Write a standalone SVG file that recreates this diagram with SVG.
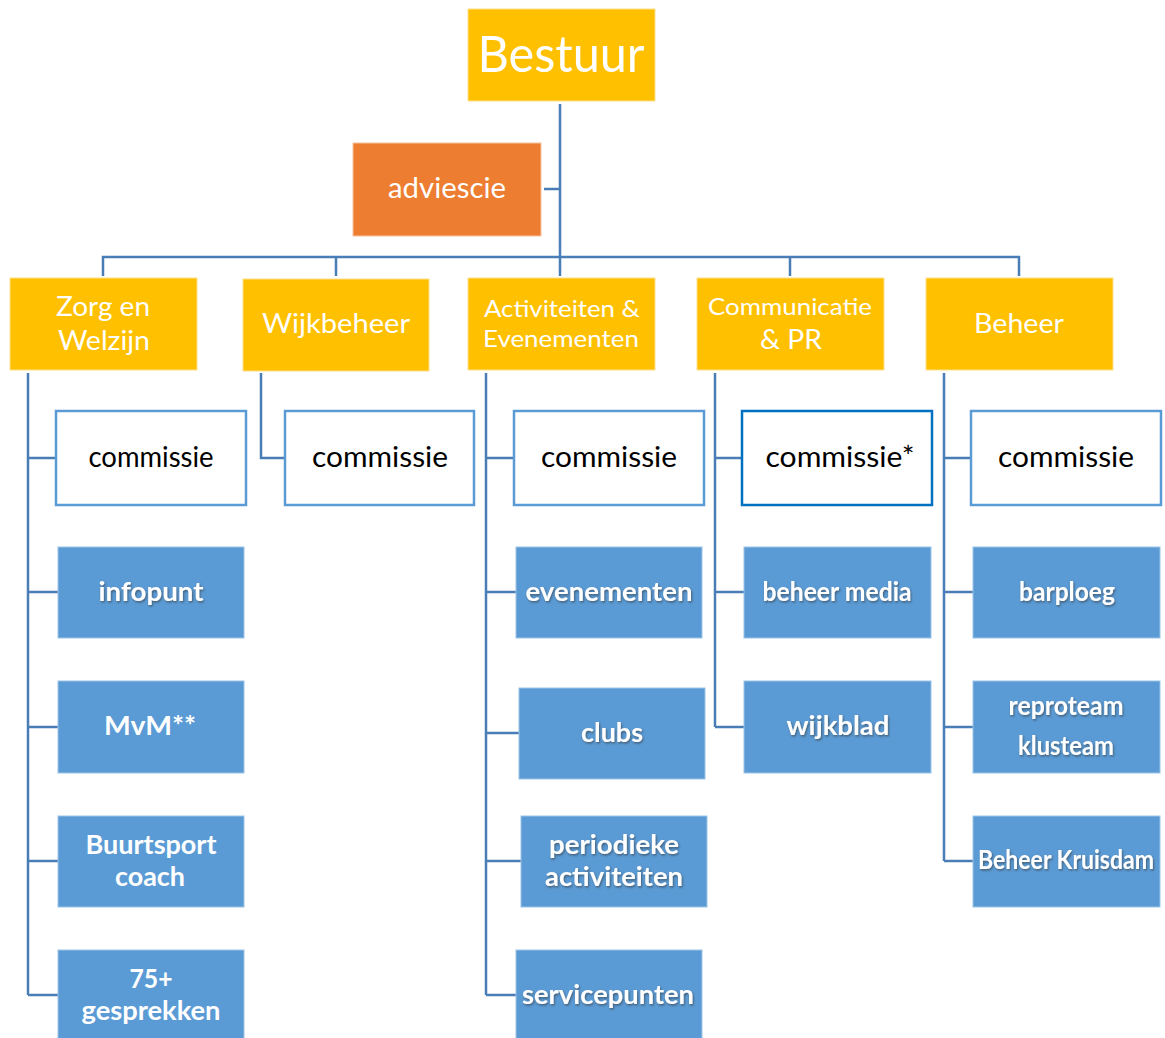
<svg xmlns="http://www.w3.org/2000/svg" width="1165" height="1038" viewBox="0 0 1165 1038">
<defs>
<style>
.gold{fill:#FFC000;stroke:#FFE08A;stroke-width:1}
.orange{fill:#ED7D31;stroke:#F6C3A0;stroke-width:1}
.com{fill:#fff;stroke:#5B9BD5;stroke-width:2.5}
.com2{fill:#fff;stroke:#0070C0;stroke-width:2.5}
.blue{fill:#5B9BD5;stroke:#9DC3E6;stroke-width:1}
.t{font-family:Lato,"Liberation Sans",sans-serif;text-anchor:middle}
.w{fill:#fff}
.k{fill:#000;font-size:28px}
.b{fill:#fff;font-weight:bold;font-size:26px}
.sh{filter:url(#shadow)}
.conn{fill:none;stroke:#4A7DB5;stroke-width:2.5}
</style>
<filter id="shadow" x="-10%" y="-20%" width="120%" height="150%">
<feDropShadow dx="1" dy="1.5" stdDeviation="1" flood-color="#333" flood-opacity="0.6"/>
</filter>
</defs>
<rect width="1165" height="1038" fill="#fff"/>
<g id="connectors">
<path class="conn" d="M560 104V276M103 276V257H1019V276M336 257V276M790 257V276M544 189H560"/>
<path class="conn" d="M28 373V995M28 458H56M28 592H58M28 727H58M28 861H58M28 995H58"/>
<path class="conn" d="M261 373V458H285"/>
<path class="conn" d="M486 373V995M486 458H514M486 592H516M486 733H519M486 861H521M486 995H516"/>
<path class="conn" d="M715 373V727M715 458H742M715 592H744M715 727H744"/>
<path class="conn" d="M944 373V861M944 458H971M944 592H973M944 727H973M944 861H973"/>
</g>
<g id="bestuur"><rect class="gold" x="468" y="9" width="187" height="92"/><text class="t w" x="561" y="72" font-size="50" textLength="167" lengthAdjust="spacingAndGlyphs">Bestuur</text></g>
<g id="adviescie"><rect class="orange" x="353" y="143" width="188" height="93"/><text class="t w" x="447" y="198" font-size="28" textLength="118" lengthAdjust="spacingAndGlyphs">adviescie</text></g>
<g id="zorg"><rect class="gold" x="10" y="278" width="187" height="92"/><text class="t w" x="103" y="316" font-size="27" textLength="94" lengthAdjust="spacingAndGlyphs">Zorg en</text><text class="t w" x="104" y="350" font-size="27" textLength="92" lengthAdjust="spacingAndGlyphs">Welzijn</text></g>
<g id="wijkbeheer"><rect class="gold" x="243" y="279" width="186" height="92"/><text class="t w" x="336" y="333" font-size="27" textLength="148" lengthAdjust="spacingAndGlyphs">Wijkbeheer</text></g>
<g id="activiteiten"><rect class="gold" x="468" y="278" width="187" height="92"/><text class="t w" x="562" y="317" font-size="24" textLength="156" lengthAdjust="spacingAndGlyphs">Activiteiten &amp;</text><text class="t w" x="561" y="347" font-size="24" textLength="156" lengthAdjust="spacingAndGlyphs">Evenementen</text></g>
<g id="communicatie"><rect class="gold" x="697" y="278" width="187" height="92"/><text class="t w" x="790" y="315" font-size="24" textLength="164" lengthAdjust="spacingAndGlyphs">Communicatie</text><text class="t w" x="791" y="349" font-size="27" textLength="62" lengthAdjust="spacingAndGlyphs">&amp; PR</text></g>
<g id="beheer"><rect class="gold" x="926" y="278" width="187" height="92"/><text class="t w" x="1019" y="333" font-size="27" textLength="90" lengthAdjust="spacingAndGlyphs">Beheer</text></g>

<g id="zorg-commissie"><rect class="com" x="56" y="411" width="190" height="94"/><text class="t k" x="151" y="467" textLength="125" lengthAdjust="spacingAndGlyphs">commissie</text></g>
<g id="wijk-commissie"><rect class="com" x="285" y="411" width="189" height="94"/><text class="t k" x="380" y="467" textLength="136" lengthAdjust="spacingAndGlyphs">commissie</text></g>
<g id="act-commissie"><rect class="com" x="514" y="411" width="190" height="94"/><text class="t k" x="609" y="467" textLength="136" lengthAdjust="spacingAndGlyphs">commissie</text></g>
<g id="comm-commissie"><rect class="com2" x="742" y="411" width="190" height="94"/><text class="t k" x="840" y="467" textLength="149" lengthAdjust="spacingAndGlyphs">commissie*</text></g>
<g id="beheer-commissie"><rect class="com" x="971" y="411" width="190" height="94"/><text class="t k" x="1066" y="467" textLength="136" lengthAdjust="spacingAndGlyphs">commissie</text></g>

<g id="infopunt"><rect class="blue" x="58" y="547" width="186" height="91"/><text class="t b sh" x="151" y="601" textLength="105" lengthAdjust="spacingAndGlyphs">infopunt</text></g>
<g id="mvm"><rect class="blue" x="58" y="681" width="186" height="92"/><text class="t b" x="150" y="735" textLength="92" lengthAdjust="spacingAndGlyphs">MvM**</text></g>
<g id="buurtsport"><rect class="blue" x="58" y="816" width="186" height="91"/><text class="t b" x="151" y="854" textLength="131" lengthAdjust="spacingAndGlyphs">Buurtsport</text><text class="t b" x="150" y="886" textLength="70" lengthAdjust="spacingAndGlyphs">coach</text></g>
<g id="gesprekken"><rect class="blue" x="58" y="950" width="186" height="92"/><text class="t b" x="151" y="988" textLength="43" lengthAdjust="spacingAndGlyphs">75+</text><text class="t b" x="151" y="1020" textLength="139" lengthAdjust="spacingAndGlyphs">gesprekken</text></g>

<g id="evenementen"><rect class="blue" x="516" y="547" width="186" height="91"/><text class="t b sh" x="609" y="601" textLength="167" lengthAdjust="spacingAndGlyphs">evenementen</text></g>
<g id="clubs"><rect class="blue" x="519" y="688" width="186" height="91"/><text class="t b sh" x="612" y="742" textLength="62" lengthAdjust="spacingAndGlyphs">clubs</text></g>
<g id="periodieke"><rect class="blue" x="521" y="816" width="186" height="91"/><text class="t b sh" x="614" y="854" textLength="130" lengthAdjust="spacingAndGlyphs">periodieke</text><text class="t b sh" x="614" y="886" textLength="138" lengthAdjust="spacingAndGlyphs">activiteiten</text></g>
<g id="servicepunten"><rect class="blue" x="516" y="950" width="186" height="92"/><text class="t b sh" x="608" y="1004" textLength="172" lengthAdjust="spacingAndGlyphs">servicepunten</text></g>

<g id="beheer-media"><rect class="blue" x="744" y="547" width="187" height="91"/><text class="t b sh" x="837" y="601" textLength="149" lengthAdjust="spacingAndGlyphs">beheer media</text></g>
<g id="wijkblad"><rect class="blue" x="744" y="681" width="187" height="92"/><text class="t b sh" x="838" y="735" textLength="103" lengthAdjust="spacingAndGlyphs">wijkblad</text></g>

<g id="barploeg"><rect class="blue" x="973" y="547" width="187" height="91"/><text class="t b sh" x="1067" y="601" textLength="96" lengthAdjust="spacingAndGlyphs">barploeg</text></g>
<g id="reproteam"><rect class="blue" x="973" y="681" width="187" height="92"/><text class="t b sh" x="1066" y="715" textLength="115" lengthAdjust="spacingAndGlyphs">reproteam</text><text class="t b sh" x="1066" y="755" textLength="96" lengthAdjust="spacingAndGlyphs">klusteam</text></g>
<g id="kruisdam"><rect class="blue" x="973" y="816" width="187" height="91"/><text class="t b sh" x="1066" y="869" font-size="22" textLength="176" lengthAdjust="spacingAndGlyphs">Beheer Kruisdam</text></g>
</svg>
